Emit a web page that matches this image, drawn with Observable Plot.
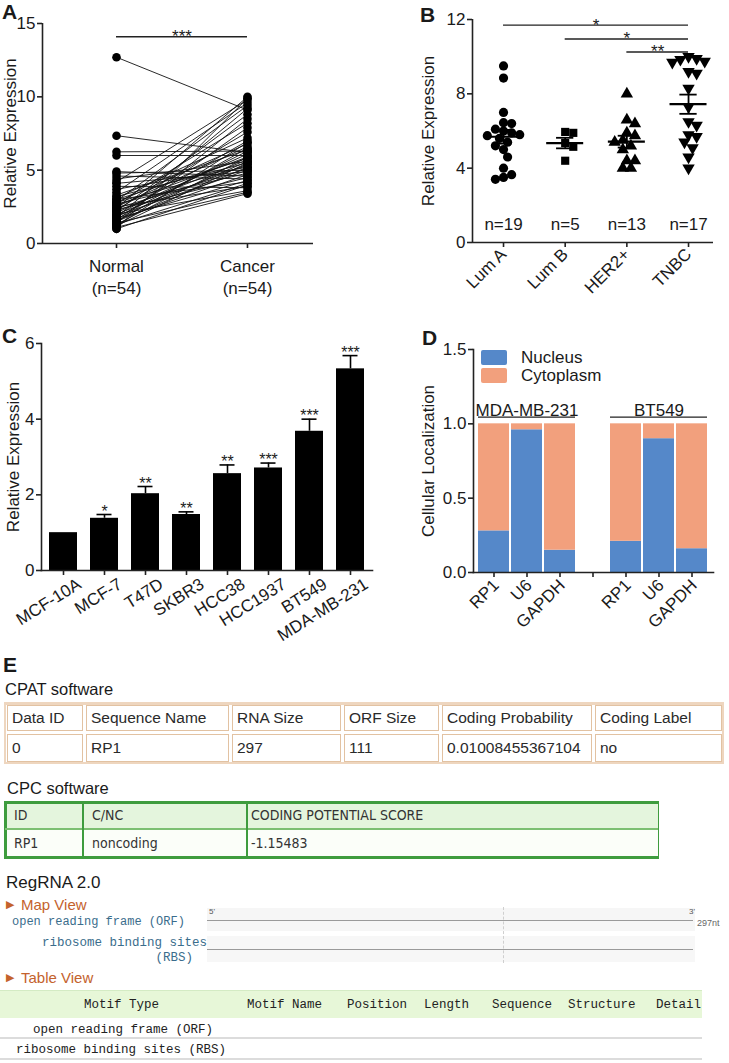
<!DOCTYPE html>
<html><head><meta charset="utf-8">
<script src="https://cdn.jsdelivr.net/npm/d3@7"></script>
<script src="https://cdn.jsdelivr.net/npm/@observablehq/plot@0.6"></script>
<style>
body{margin:0;background:#fff;}
#root{position:relative;width:729px;height:1063px;overflow:hidden;font-family:"Liberation Sans",Arial,sans-serif;color:#1a1a1a;}
.letter{position:absolute;font-weight:bold;font-size:21px;line-height:21px;}
.t{position:absolute;white-space:nowrap;}
.mono{font-family:"Liberation Mono","DejaVu Sans Mono",monospace;}
</style></head><body><div id="root"></div><script>
// ---------- DATA ----------
const groupsA = ["Normal\n(n=54)", "Cancer\n(n=54)"];
const normalA = [12.7,7.35,6.25,6.0,4.9,4.8,4.6,4.4,4.2,4.1,3.9,3.7,3.5,3.3,3.2,3.1,3.0,3.0,2.9,2.8,2.8,2.7,2.7,2.6,2.5,2.5,2.4,2.4,2.3,2.3,2.2,2.2,2.1,2.0,2.0,1.9,1.9,1.8,1.8,1.7,1.7,1.6,1.6,1.5,1.5,1.4,1.4,1.3,1.3,1.2,1.2,1.1,1.0,1.0];
const cancerA = [9.1,6.2,6.3,6.0,4.6,5.0,4.4,5.6,9.8,4.9,3.8,5.2,9.6,6.4,5.5,7.2,5.8,4.2,9.4,6.8,5.3,4.8,8.2,5.9,3.9,6.6,5.1,10.0,7.6,4.5,5.7,8.8,6.1,5.4,3.6,7.0,5.0,9.2,6.3,4.3,5.6,7.9,4.7,6.5,5.2,3.5,8.5,5.9,4.1,6.9,5.5,3.4,4.0,9.9];
const sigALabel = "***";

const groupsB = ["Lum A","Lum B","HER2+","TNBC"];
const countsB = ["n=19","n=5","n=13","n=17"];
const lumA = [9.5,8.85,7.0,6.45,6.4,6.1,6.0,5.9,5.8,5.75,5.6,5.4,5.2,5.0,4.6,4.0,3.65,3.5,3.4];
const lumB = [5.95,5.9,5.35,5.15,4.4];
const her2 = [8.0,6.6,6.4,5.9,5.75,5.5,5.4,5.2,5.0,4.4,4.4,4.0,4.0];
const tnbc = [10.0,9.9,9.85,9.75,9.7,9.2,9.1,8.3,7.3,6.5,6.3,5.8,5.7,5.4,5.1,4.6,4.0];
const sigB = [{from:0,to:3,y:11.7,label:"*"},{from:1,to:3,y:10.95,label:"*"},{from:2,to:3,y:10.25,label:"**"}];

const cellsC = ["MCF-10A","MCF-7","T47D","SKBR3","HCC38","HCC1937","BT549","MDA-MB-231"];
const meanC = [1.0,1.38,2.03,1.48,2.56,2.71,3.68,5.33];
const semC  = [0,0.10,0.19,0.07,0.23,0.13,0.32,0.35];
const starsC = ["","*","**","**","**","***","***","***"];

const linesD = ["MDA-MB-231","BT549"];
const genesD = ["RP1","U6","GAPDH"];
const nucleusMDA = [0.28,0.96,0.15];
const nucleusBT549 = [0.21,0.90,0.16];
const compartments = ["Nucleus","Cytoplasm"];
const compColors = ["#5588c9","#f2a07d"];

const cpatHeader = ["Data ID","Sequence Name","RNA Size","ORF Size","Coding Probability","Coding Label"];
const cpatRow = ["0","RP1","297","111","0.01008455367104","no"];
const cpcHeader = ["ID","C/NC","CODING POTENTIAL SCORE"];
const cpcRow = ["RP1","noncoding","-1.15483"];
const regMap = ["open reading frame (ORF)","ribosome binding sites","(RBS)"];
const regHeader = ["Motif Type","Motif Name","Position","Length","Sequence","Structure","Detail"];
const regRows = ["open reading frame (ORF)","ribosome binding sites (RBS)"];

// ---------- HELPERS ----------
const root = document.getElementById("root");
function put(el, left, top){ el.style.position="absolute"; el.style.left=left+"px"; el.style.top=top+"px"; root.appendChild(el); return el; }
function txt(s, left, cy, opts={}){
  const d=document.createElement("div"); d.className="t"+(opts.cls?" "+opts.cls:""); d.textContent=s;
  const fs=opts.fs||16; d.style.fontSize=fs+"px"; d.style.lineHeight=fs*1.2+"px";
  if(opts.color) d.style.color=opts.color;
  if(opts.right!=null){ d.style.right=(729-opts.right)+"px"; }
  else d.style.left=left+"px";
  d.style.top=(cy-fs*0.6)+"px";
  root.appendChild(d); return d;
}
function box(left, top, w, h, css){ const d=document.createElement("div"); d.style.cssText=`position:absolute;left:${left}px;top:${top}px;width:${w}px;height:${h}px;box-sizing:border-box;${css}`; root.appendChild(d); return d; }
const baseStyle = {fontFamily:'"Liberation Sans", Arial, sans-serif', fontSize:"17px", color:"#1a1a1a", background:"transparent", overflow:"visible"};
const axisStroke = {stroke:"#222", strokeWidth:1.6};
const num = d=>String(d);
function yLabel(s, dx){ return Plot.text([s], {frameAnchor:"left", textAnchor:"middle", lineAnchor:"middle", dx, rotate:-90, fontSize:17}); }

// simple beeswarm (computed from values)
function swarm(vals, r, pyu, pxu){
  const placed=[];
  return vals.map(v=>{
    const y=v*pyu;
    for(let k=0;k<50;k++){
      for(const s of (k===0?[0]:[k,-k])){
        const x=s*r*0.9;
        if(placed.every(p=>(p.x-x)**2+(p.y-y)**2 >= (1.75*r)**2)){ placed.push({x,y}); return x/pxu; }
      }
    }
    return 0;
  });
}

// ---------- PANEL A ----------
const aX0=-0.565, aX1=1.504;
const pairsA = normalA.map((v,i)=>({normal:v, cancer:cancerA[i]}));
const dotsA = pairsA.flatMap(d=>[{x:0,y:d.normal},{x:1,y:d.cancer}]);
const chartA = Plot.plot({
  width:360, height:300, marginLeft:42, marginTop:23, marginBottom:57, marginRight:47,
  style:baseStyle, x:{domain:[aX0,aX1]}, y:{domain:[0,15]},
  marks:[
    Plot.axisY({ticks:[0,5,10,15], tickFormat:num, tickSize:5, tickPadding:2, label:null, ...axisStroke}),
    Plot.axisX({ticks:[0,1], tickFormat:i=>groupsA[i], tickSize:5, tickPadding:8, label:null, lineHeight:1.3, ...axisStroke}),
    Plot.link(pairsA, {x1:()=>0, y1:"normal", x2:()=>1, y2:"cancer", stroke:"#111", strokeWidth:0.9}),
    Plot.dot(dotsA, {x:"x", y:"y", r:4.3, fill:"#000"}),
    Plot.ruleX([aX0], {y1:0, y2:15, ...axisStroke}),
    Plot.ruleY([0], {x1:aX0, x2:aX1, ...axisStroke}),
    Plot.ruleY([sigALabel], {x1:0, x2:1, y:14.1, stroke:"#222", strokeWidth:1.4}),
    Plot.text([sigALabel], {x:0.5, y:14.1, fontSize:17}),
    yLabel("Relative Expression", -32)
  ]
});
put(chartA, 0, 0);

// ---------- PANEL B ----------
const bX0=-0.503, bX1=3.405, pyuB=(242-19)/12, pxuB=61.67;
const valsB=[lumA,lumB,her2,tnbc];
const ptsB=[];
valsB.forEach((vals,g)=>{ const off=swarm(vals,4.5,pyuB,pxuB); vals.forEach((v,i)=>ptsB.push({g,x:g+off[i],y:v})); });
const statsB = valsB.map((vals,g)=>({g, mean:d3.mean(vals), sem:d3.deviation(vals)/Math.sqrt(vals.length)}));
const symB=["circle","square","triangle","triangle"];
const chartB = Plot.plot({
  width:369, height:300, marginLeft:112, marginTop:19, marginBottom:58, marginRight:16,
  style:baseStyle, x:{domain:[bX0,bX1]}, y:{domain:[0,12]},
  marks:[
    Plot.axisY({ticks:[0,4,8,12], tickFormat:num, tickSize:5, tickPadding:2, label:null, ...axisStroke}),
    Plot.axisX({ticks:[0,1,2,3], tickFormat:i=>groupsB[i], tickRotate:-45, tickSize:5, tickPadding:4, label:null, ...axisStroke}),
    ...[0,1,2,3].map(g=>Plot.dot(ptsB.filter(p=>p.g===g), {x:"x", y:"y", r:4.6, fill:"#000", symbol:symB[g], rotate:g===3?180:0})),
    Plot.ruleY(statsB, {x1:d=>d.g-0.3, x2:d=>d.g+0.3, y:"mean", stroke:"#000", strokeWidth:2.2}),
    Plot.ruleY(statsB, {x1:d=>d.g-0.14, x2:d=>d.g+0.14, y:d=>d.mean+d.sem, stroke:"#000", strokeWidth:1.8}),
    Plot.ruleY(statsB, {x1:d=>d.g-0.14, x2:d=>d.g+0.14, y:d=>d.mean-d.sem, stroke:"#000", strokeWidth:1.8}),
    Plot.ruleX(statsB, {x:"g", y1:d=>d.mean-d.sem, y2:d=>d.mean+d.sem, stroke:"#000", strokeWidth:1.8}),
    Plot.text(countsB, {x:(d,i)=>i, frameAnchor:"bottom", dy:-13, fontSize:17}),
    Plot.ruleY(sigB, {x1:"from", x2:"to", y:"y", stroke:"#222", strokeWidth:1.4}),
    Plot.text(sigB, {x:d=>(d.from+d.to)/2, y:"y", text:"label", fontSize:17}),
    Plot.ruleX([bX0], {y1:0, y2:12, ...axisStroke}),
    Plot.ruleY([0], {x1:bX0, x2:bX1, ...axisStroke}),
    yLabel("Relative Expression", -44)
  ]
});
put(chartB, 360, 0);

// ---------- PANEL C ----------
const rowsC = cellsC.map((c,i)=>({cell:c, mean:meanC[i], sem:semC[i], star:starsC[i]}));
const errC = rowsC.filter(d=>d.sem>0);
const chartC = Plot.plot({
  width:375, height:390, marginLeft:41, marginTop:43, marginBottom:120, marginRight:3,
  style:baseStyle, x:{domain:cellsC, paddingInner:0.326, paddingOuter:0.19}, y:{domain:[0,6]},
  marks:[
    Plot.axisY({ticks:[0,2,4,6], tickFormat:num, tickSize:5, tickPadding:2, label:null, ...axisStroke}),
    Plot.axisX({tickSize:5, tickFormat:()=>"", label:null, ...axisStroke}),
    Plot.axisX({tickSize:0, tickRotate:-32, tickPadding:8, dx:16, dy:4, label:null}),
    Plot.barY(rowsC, {x:"cell", y:"mean", fill:"#000"}),
    Plot.ruleX(errC, {x:"cell", y1:"mean", y2:d=>d.mean+d.sem, stroke:"#000", strokeWidth:1.6}),
    Plot.tickY(errC, {x:"cell", y:d=>d.mean+d.sem, insetLeft:6.5, insetRight:6.5, stroke:"#000", strokeWidth:1.6}),
    Plot.text(errC, {x:"cell", y:d=>d.mean+d.sem, text:"star", dy:-3, fontSize:16}),
    Plot.frame({anchor:"left", ...axisStroke}),
    Plot.frame({anchor:"bottom", ...axisStroke}),
    yLabel("Relative Expression", -28)
  ]
});
put(chartC, 0, 300);

// ---------- PANEL D ----------
const nucD = {"MDA-MB-231":nucleusMDA, "BT549":nucleusBT549};
const keysD = [];
linesD.forEach((l,li)=>{ genesD.forEach(g=>keysD.push(l+"|"+g)); if(li<linesD.length-1) keysD.push("gap"); });
const rowsD = [];
linesD.forEach(l=>genesD.forEach((g,gi)=>{ const n=nucD[l][gi]; rowsD.push({key:l+"|"+g, comp:compartments[0], v:n}); rowsD.push({key:l+"|"+g, comp:compartments[1], v:1-n}); }));
const chartD = Plot.plot({
  width:369, height:390, marginLeft:113, marginTop:49, marginBottom:118, marginRight:16,
  style:baseStyle, x:{domain:keysD, paddingInner:0.06, paddingOuter:0.06}, y:{domain:[0,1.5]},
  color:{domain:compartments, range:compColors},
  marks:[
    Plot.axisY({ticks:[0,0.5,1,1.5], tickFormat:d3.format(".1f"), tickSize:5, tickPadding:2, label:null, ...axisStroke}),
    Plot.axisX({tickSize:5, tickFormat:()=>"", label:null, ...axisStroke}),
    Plot.axisX({tickSize:0, tickFormat:k=>k==="gap"?"":k.split("|")[1], tickRotate:-45, tickPadding:10, dx:2, label:null}),
    Plot.barY(rowsD, {x:"key", y:"v", fill:"comp"}),
    Plot.ruleY(linesD, {x1:l=>l+"|"+genesD[0], x2:l=>l+"|"+genesD[2], y:1.045, stroke:"#222", strokeWidth:1.3}),
    Plot.text(linesD, {x:l=>l+"|"+genesD[1], y:1.045, lineAnchor:"bottom", dy:-1, fontSize:17}),
    Plot.frame({anchor:"left", ...axisStroke}),
    Plot.frame({anchor:"bottom", ...axisStroke}),
    yLabel("Cellular Localization", -45)
  ]
});
put(chartD, 360, 300);
// legend D
compartments.forEach((c,i)=>{
  box(481, 350+i*18, 26, 15, `background:${compColors[i]};border-radius:2px;`);
  txt(c, 521, 358+i*18, {fs:17});
});

// ---------- PANEL LETTERS ----------
[["A",2,1],["B",420,4],["C",2,325],["D",422,327],["E",3,654]].forEach(([s,x,y])=>{ const d=document.createElement("div"); d.className="letter"; d.textContent=s; put(d,x,y); });

// ---------- PANEL E : CPAT ----------
txt("CPAT software", 5, 690, {fs:16.5});
const cpatCols=[5,84,230,342,440,593,723], cpatRowsY=[703,732,763];
box(4, 702, 720, 62, "border:2px solid #eed6bf;border-top-width:3px;");
[cpatHeader, cpatRow].forEach((row,ri)=>{
  row.forEach((s,ci)=>{
    const x0=cpatCols[ci]+2, x1=cpatCols[ci+1]-1, y0=cpatRowsY[ri]+2, y1=cpatRowsY[ri+1]-1;
    box(x0, y0, x1-x0, y1-y0, "border:1px solid #e2c2a2;background:#fff;");
    txt(s, x0+5, (y0+y1)/2, {fs:15.5, color:"#2a2a2a"});
  });
});

// ---------- PANEL E : CPC ----------
txt("CPC software", 7, 789, {fs:16.5});
const cpcCols=[5,83,247,658], cpcRowsY=[802,829,858];
box(5, 802, 653, 27, "background:#e4f5dd;");
box(5, 829, 653, 29, "background:#fbfef9;");
box(4, 801, 655, 58, "border:3px solid #3e9c3e;border-right-width:1px;");
box(5, 828, 653, 2, "background:#7cbf72;");
cpcCols.slice(1,-1).forEach(x=>box(x-1, 802, 2, 56, "background:#3e9c3e;"));
[cpcHeader, cpcRow].forEach((row,ri)=>row.forEach((s,ci)=>{
  txt(s, cpcCols[ci]+(ci===2?4:9), (cpcRowsY[ri]+cpcRowsY[ri+1])/2, {fs:14, color:"#333"}).style.fontFamily='"DejaVu Sans Condensed","DejaVu Sans",sans-serif';
}));

// ---------- PANEL E : RegRNA ----------
txt("RegRNA 2.0", 6, 883, {fs:17});
txt("\u25B6", 6, 905, {fs:11, color:"#c4622d"});
txt("Map View", 21, 905, {fs:15, color:"#c4622d"});
box(207, 908, 488, 23, "background:#f6f6f6;");
box(207, 936, 488, 26, "background:#f7f7f7;");
box(503, 907, 0, 56, "border-left:1px dashed #cfcfcf;");
box(207, 920, 486, 1, "background:#9a9a9a;");
box(207, 949, 486, 1, "background:#9a9a9a;");
txt("5'", 209, 912, {fs:8, color:"#555"});
txt("3'", 689, 912, {fs:8, color:"#555"});
txt("297nt", 697, 923, {fs:9, color:"#666"});
txt(regMap[0], 12, 922, {fs:12, color:"#3a6d8c", cls:"mono"});
txt(regMap[1], 0, 943, {fs:12.5, color:"#3a6d8c", cls:"mono", right:207});
txt(regMap[2], 0, 958, {fs:12.5, color:"#3a6d8c", cls:"mono", right:193});
txt("\u25B6", 6, 978, {fs:11, color:"#c4622d"});
txt("Table View", 21, 978, {fs:15, color:"#c4622d"});
box(0, 990, 702, 28, "background:#e7f7d8;border-top:1px solid #d4ebc4;");
const regHeadX=[84,247,347,424,492,568,656];
regHeader.forEach((s,i)=>txt(s, regHeadX[i], 1005, {fs:12.5, color:"#222", cls:"mono"}));
box(0, 1037, 702, 2, "background:#dcdcdc;");
box(0, 1058, 702, 2, "background:#dcdcdc;");
txt(regRows[0], 33, 1030, {fs:12.5, color:"#222", cls:"mono"});
txt(regRows[1], 16, 1050, {fs:12.5, color:"#222", cls:"mono"});
</script></body></html>
